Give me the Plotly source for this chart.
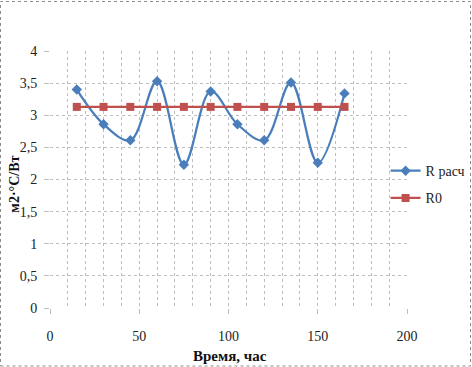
import plotly.graph_objects as go

time_h = [15, 30, 45, 60, 75, 90, 105, 120, 135, 150, 165]
r_calc = [3.40, 2.86, 2.61, 3.53, 2.23, 3.37, 2.86, 2.61, 3.51, 2.26, 3.34]
r0 = [3.13] * len(time_h)

series_names = ["R расч", "R0"]
x_title = "Время, час"
y_title = "м2·°С/Вт"

FONT = "Liberation Serif"
BLUE = "#4A7EBB"
RED = "#C0504D"
GRID = "#BDBDBD"

fig = go.Figure()
fig.add_trace(go.Scatter(
    x=time_h, y=r_calc, name=series_names[0], mode="lines+markers",
    line=dict(color=BLUE, width=2.25, shape="spline", smoothing=1.0),
    marker=dict(symbol="diamond", size=8, color=BLUE),
    legendgroup="a",
))
fig.add_trace(go.Scatter(
    x=time_h, y=r0, name=series_names[1], mode="lines+markers",
    line=dict(color=RED, width=2.25),
    marker=dict(symbol="square", size=8, color=RED),
    legendgroup="b",
))

fig.update_layout(
    width=472, height=367,
    margin=dict(l=50, r=65, t=51, b=59, autoexpand=False),
    paper_bgcolor="white", plot_bgcolor="white",
    separators=", ",
    font=dict(family=FONT, size=13, color="#222222"),
    showlegend=True,
    legend=dict(x=0.94, y=0.48, xanchor="left", yanchor="middle",
                font=dict(family=FONT, size=14, color="#222222"),
                bgcolor="rgba(0,0,0,0)", tracegroupgap=6,
                itemwidth=30),
    xaxis=dict(range=[0, 200], dtick=50, tick0=0,
               showgrid=True, gridcolor=GRID, griddash="dot", gridwidth=1,
               minor=dict(dtick=10, showgrid=True, gridcolor=GRID, griddash="dot", gridwidth=1),
               ticks="outside", ticklen=5, tickcolor=GRID,
               showline=False, zeroline=False,
               ticklabelstandoff=10,
               tickfont=dict(family=FONT, size=14, color="#222222")),
    yaxis=dict(range=[0, 4], dtick=0.5, tick0=0,
               showgrid=True, gridcolor=GRID, griddash="dot", gridwidth=1,
               ticks="outside", ticklen=5, tickcolor=GRID,
               showline=False, zeroline=False,
               ticklabelstandoff=4,
               tickformat=".1~f",
               tickfont=dict(family=FONT, size=14, color="#222222")),
)

fig.add_annotation(text="<b>" + x_title + "</b>", xref="paper", yref="paper",
                   x=0.503, y=-0.185, xanchor="center", yanchor="middle",
                   showarrow=False, font=dict(family=FONT, size=15, color="#111111"))
fig.add_annotation(text="<b>" + y_title + "</b>", xref="paper", yref="paper",
                   x=-0.098, y=0.48, xanchor="center", yanchor="middle", textangle=-90,
                   showarrow=False, font=dict(family=FONT, size=14, color="#111111"))

# outer chart border (dotted)
fig.add_shape(type="rect", xref="paper", yref="paper",
              x0=-49.5 / 357, x1=(470.5 - 50) / 357,
              y0=-(366 - 308) / 257, y1=(308 - 1.5) / 257,
              line=dict(color="#8C8C8C", width=1, dash="dot"), layer="below")

fig.write_html("out.html", config={"displayModeBar": False},
               post_script="document.body.style.margin='0';document.body.style.overflow='hidden';")
